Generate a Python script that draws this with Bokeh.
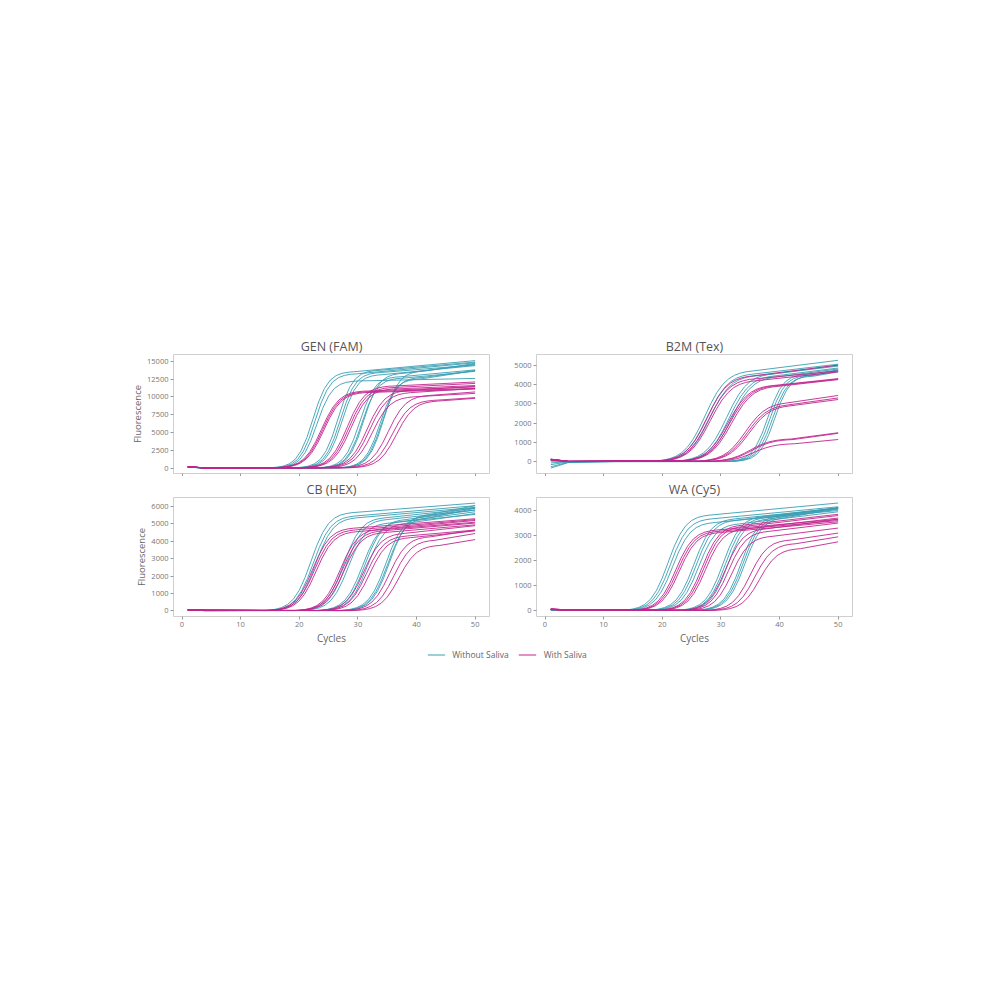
from bokeh.plotting import figure
from bokeh.models import Range1d, FixedTicker, ColumnDataSource, Legend, LegendItem, Spacer
from bokeh.layouts import column, row
from bokeh.embed import file_html
from bokeh.resources import INLINE

# ---------------- data ----------------
# every curve: values at HEAD_CYCLES, then at t0 + RISE_OFFSETS, then at LAST_CYCLE
HEAD_CYCLES = [1, 4]
RISE_OFFSETS = list(range(-8, 8))
LAST_CYCLE = 50
X_TICKS = [0, 10, 20, 30, 40, 50]
SERIES_NAMES = ["Without Saliva", "With Saliva"]
PANEL_TITLES = ["GEN (FAM)", "B2M (Tex)", "CB (HEX)", "WA (Cy5)"]

# GEN (FAM)
GEN_YTICKS = [0, 2500, 5000, 7500, 10000, 12500, 15000]
GEN_WO_T0 = [22.3, 22.7, 23.0, 26.6, 27.0, 27.3, 30.3, 30.7, 31.0, 33.8, 34.1, 34.4]
GEN_WO_HEAD = [[130, 20], [150, 20], [120, 10], [160, 20], [140, 20], [150, 10],
               [130, 20], [170, 20], [140, 10], [150, 20], [160, 20], [130, 10]]
GEN_WO_RISE = [
    [29, 63, 136, 286, 598, 1224, 2407, 4298, 6800, 9302, 11193, 12376, 13002, 13314, 13464, 13532],
    [28, 61, 133, 279, 585, 1197, 2354, 4203, 6650, 9097, 10946, 12103, 12715, 13021, 13167, 13234],
    [26, 57, 123, 258, 541, 1107, 2177, 3887, 6150, 8413, 10123, 11193, 11759, 12042, 12177, 12239],
    [29, 63, 138, 290, 607, 1242, 2443, 4361, 6900, 9439, 11357, 12558, 13193, 13510, 13662, 13731],
    [28, 62, 135, 284, 594, 1215, 2390, 4266, 6750, 9234, 11111, 12285, 12906, 13217, 13365, 13433],
    [28, 61, 132, 277, 581, 1188, 2336, 4171, 6600, 9029, 10864, 12012, 12619, 12923, 13068, 13134],
    [27, 59, 129, 271, 568, 1161, 2283, 4076, 6450, 8824, 10617, 11739, 12332, 12629, 12771, 12836],
    [27, 58, 127, 267, 559, 1143, 2248, 4013, 6350, 8687, 10452, 11557, 12141, 12433, 12573, 12637],
    [28, 62, 134, 281, 590, 1206, 2372, 4234, 6700, 9166, 11028, 12194, 12810, 13119, 13266, 13333],
    [26, 58, 126, 265, 554, 1134, 2230, 3982, 6300, 8618, 10370, 11466, 12046, 12335, 12474, 12537],
    [27, 59, 128, 269, 563, 1152, 2266, 4045, 6400, 8755, 10534, 11648, 12237, 12531, 12672, 12736],
    [29, 63, 137, 288, 603, 1233, 2425, 4329, 6850, 9371, 11275, 12467, 13097, 13412, 13563, 13632],
]
GEN_WO_END = [15100, 14800, 12600, 14900, 14500, 14400, 13800, 13600, 14600, 13700, 13700, 14700]

GEN_W_T0 = [23.8, 24.0, 24.2, 28.2, 28.5, 28.8, 31.6, 32.0, 32.5, 35.2, 35.9, 36.6]
GEN_W_HEAD = [[170, 30], [190, 30], [160, 20], [180, 30], [170, 20], [200, 30],
              [160, 20], [180, 30], [170, 20], [190, 30], [160, 20], [180, 30]]
GEN_W_RISE = [
    [52, 101, 196, 376, 709, 1297, 2278, 3695, 5450, 7205, 8622, 9603, 10192, 10529, 10704, 10802],
    [52, 100, 194, 373, 702, 1285, 2257, 3661, 5400, 7139, 8543, 9515, 10098, 10433, 10606, 10703],
    [51, 100, 193, 369, 696, 1273, 2236, 3627, 5350, 7073, 8464, 9427, 10005, 10336, 10507, 10604],
    [56, 108, 209, 400, 754, 1380, 2424, 3932, 5800, 7668, 9176, 10220, 10846, 11206, 11391, 11496],
    [55, 106, 205, 393, 741, 1357, 2383, 3865, 5700, 7535, 9017, 10043, 10659, 11012, 11195, 11297],
    [54, 104, 202, 386, 728, 1333, 2341, 3797, 5600, 7403, 8859, 9867, 10472, 10819, 10998, 11099],
    [53, 102, 198, 380, 715, 1309, 2299, 3729, 5500, 7271, 8701, 9691, 10285, 10626, 10802, 10901],
    [51, 100, 193, 369, 696, 1273, 2236, 3627, 5350, 7073, 8464, 9427, 10005, 10336, 10507, 10604],
    [48, 94, 182, 348, 657, 1202, 2111, 3424, 5050, 6676, 7989, 8898, 9444, 9757, 9918, 10009],
    [49, 96, 185, 355, 670, 1226, 2153, 3492, 5150, 6808, 8147, 9074, 9631, 9950, 10115, 10207],
    [46, 89, 173, 331, 624, 1142, 2006, 3254, 4800, 6346, 7594, 8458, 8976, 9274, 9427, 9514],
    [46, 88, 171, 328, 618, 1131, 1986, 3221, 4750, 6279, 7515, 8370, 8883, 9177, 9329, 9415],
]
GEN_W_END = [11400, 11200, 11100, 12100, 11900, 11600, 11500, 11200, 10500, 10700, 9900, 9800]

# B2M (Tex)
B2M_YTICKS = [0, 1000, 2000, 3000, 4000, 5000]
B2M_WO_T0 = [27.3, 27.7, 28.1, 31.0, 31.4, 31.8, 38.0, 38.4, 38.8, 39.2]
B2M_WO_HEAD = [[-330, -40], [-260, -30], [-150, -10], [60, 10], [90, 10],
               [-60, 0], [100, 10], [80, 10], [30, 0], [120, 10]]
B2M_WO_RISE = [
    [55, 95, 164, 278, 466, 755, 1178, 1734, 2375, 3016, 3572, 3995, 4285, 4472, 4586, 4655],
    [53, 92, 159, 269, 451, 731, 1141, 1679, 2300, 2921, 3459, 3869, 4149, 4331, 4441, 4508],
    [52, 90, 155, 263, 441, 716, 1116, 1643, 2250, 2858, 3384, 3785, 4059, 4237, 4345, 4410],
    [53, 92, 159, 269, 451, 731, 1141, 1679, 2300, 2921, 3459, 3869, 4149, 4331, 4441, 4508],
    [52, 90, 155, 263, 441, 716, 1116, 1643, 2250, 2858, 3384, 3785, 4059, 4237, 4345, 4410],
    [52, 89, 154, 260, 436, 708, 1104, 1624, 2225, 2826, 3346, 3742, 4014, 4190, 4296, 4361],
    [10, 21, 46, 96, 200, 410, 805, 1438, 2275, 3112, 3745, 4141, 4350, 4454, 4505, 4527],
    [9, 21, 45, 95, 198, 405, 797, 1422, 2250, 3078, 3704, 4095, 4302, 4406, 4455, 4478],
    [9, 20, 45, 93, 196, 401, 788, 1406, 2225, 3044, 3662, 4050, 4254, 4357, 4406, 4428],
    [9, 21, 45, 95, 198, 405, 797, 1422, 2250, 3078, 3704, 4095, 4302, 4406, 4455, 4478],
]
B2M_WO_END = [5250, 5050, 4950, 5000, 4850, 4800, 4750, 4700, 4650, 4750]

B2M_W_T0 = [27.6, 27.9, 28.2, 31.2, 31.5, 31.8, 34.2, 34.5, 34.8, 35.0, 35.3, 35.6]
B2M_W_HEAD = [[110, 20], [130, 20], [100, 10], [120, 20], [90, 10], [110, 20],
              [130, 20], [100, 10], [120, 20], [110, 10], [130, 20], [100, 10]]
B2M_W_RISE = [
    [52, 90, 155, 263, 441, 716, 1116, 1643, 2250, 2858, 3384, 3785, 4059, 4237, 4345, 4410],
    [50, 87, 150, 254, 426, 692, 1079, 1588, 2175, 2762, 3271, 3658, 3924, 4096, 4200, 4263],
    [49, 85, 147, 249, 417, 676, 1054, 1551, 2125, 2699, 3196, 3574, 3834, 4001, 4103, 4165],
    [46, 80, 138, 234, 392, 636, 992, 1460, 2000, 2540, 3008, 3364, 3608, 3766, 3862, 3920],
    [46, 80, 137, 233, 390, 633, 987, 1453, 1990, 2527, 2993, 3347, 3590, 3747, 3843, 3900],
    [46, 79, 136, 231, 387, 628, 980, 1442, 1975, 2508, 2970, 3322, 3563, 3719, 3814, 3871],
    [36, 62, 107, 181, 304, 493, 769, 1132, 1550, 1969, 2331, 2607, 2796, 2919, 2993, 3038],
    [35, 60, 104, 176, 294, 477, 744, 1095, 1500, 1905, 2256, 2523, 2706, 2825, 2897, 2940],
    [34, 59, 102, 173, 289, 469, 732, 1077, 1475, 1873, 2218, 2481, 2661, 2777, 2848, 2891],
    [14, 24, 41, 70, 118, 191, 298, 438, 600, 762, 902, 1009, 1082, 1130, 1159, 1176],
    [14, 23, 40, 68, 115, 186, 290, 427, 585, 743, 880, 984, 1055, 1102, 1130, 1147],
    [11, 19, 33, 56, 93, 151, 236, 347, 475, 603, 714, 799, 857, 894, 917, 931],
]
B2M_W_END = [5000, 4700, 4650, 4300, 4280, 4250, 3430, 3300, 3220, 1500, 1470, 1150]

# CB (HEX)
CB_YTICKS = [0, 1000, 2000, 3000, 4000, 5000, 6000]
CB_WO_T0 = [22.0, 22.4, 22.8, 27.6, 28.0, 28.4, 30.8, 31.2, 31.6, 34.8, 35.1, 35.4]
CB_WO_HEAD = [[50, 20], [40, 20], [60, 30], [50, 20], [40, 20], [60, 30],
              [50, 20], [40, 20], [60, 30], [50, 20], [40, 20], [60, 30]]
CB_WO_RISE = [
    [27, 53, 103, 197, 371, 678, 1191, 1932, 2850, 3768, 4509, 5022, 5330, 5506, 5597, 5649],
    [26, 51, 99, 190, 358, 655, 1150, 1865, 2750, 3636, 4351, 4846, 5143, 5313, 5401, 5451],
    [26, 50, 97, 186, 351, 643, 1129, 1831, 2700, 3569, 4271, 4757, 5049, 5216, 5303, 5351],
    [26, 50, 97, 186, 351, 643, 1129, 1831, 2700, 3569, 4271, 4757, 5049, 5216, 5303, 5351],
    [25, 49, 95, 183, 345, 631, 1108, 1797, 2650, 3503, 4192, 4669, 4956, 5120, 5205, 5252],
    [24, 47, 92, 176, 332, 607, 1066, 1729, 2550, 3371, 4034, 4493, 4769, 4927, 5008, 5054],
    [25, 48, 94, 179, 338, 619, 1087, 1763, 2600, 3437, 4113, 4581, 4862, 5023, 5106, 5153],
    [25, 49, 95, 183, 345, 631, 1108, 1797, 2650, 3503, 4192, 4669, 4956, 5120, 5205, 5252],
    [24, 47, 92, 176, 332, 607, 1066, 1729, 2550, 3371, 4034, 4493, 4769, 4927, 5008, 5054],
    [26, 51, 99, 190, 358, 655, 1150, 1865, 2750, 3636, 4351, 4846, 5143, 5313, 5401, 5451],
    [26, 50, 97, 186, 351, 643, 1129, 1831, 2700, 3569, 4271, 4757, 5049, 5216, 5303, 5351],
    [27, 52, 101, 193, 364, 666, 1170, 1898, 2800, 3702, 4430, 4934, 5236, 5410, 5499, 5550],
]
CB_WO_END = [6200, 6050, 5950, 5900, 5800, 5550, 5700, 5800, 5600, 5950, 5900, 6050]

CB_W_T0 = [22.3, 22.6, 22.9, 27.0, 27.3, 27.6, 31.0, 31.5, 32.0, 35.4, 36.2, 37.0]
CB_W_HEAD = [[70, 40], [60, 30], [80, 40], [70, 40], [60, 30], [80, 40],
             [70, 40], [60, 30], [80, 40], [70, 40], [60, 30], [80, 40]]
CB_W_RISE = [
    [23, 45, 86, 166, 312, 571, 1003, 1627, 2400, 3173, 3797, 4229, 4488, 4637, 4714, 4757],
    [23, 44, 85, 162, 306, 559, 982, 1593, 2350, 3107, 3718, 4141, 4395, 4540, 4615, 4658],
    [22, 43, 83, 159, 299, 547, 961, 1559, 2300, 3041, 3639, 4053, 4301, 4444, 4517, 4559],
    [23, 44, 86, 164, 309, 565, 993, 1610, 2375, 3140, 3757, 4185, 4441, 4589, 4665, 4707],
    [22, 43, 84, 160, 302, 553, 972, 1576, 2325, 3074, 3678, 4097, 4348, 4492, 4566, 4608],
    [22, 42, 82, 157, 296, 541, 951, 1542, 2275, 3008, 3599, 4009, 4254, 4395, 4468, 4509],
    [22, 42, 81, 155, 293, 536, 941, 1526, 2250, 2975, 3560, 3965, 4208, 4347, 4419, 4460],
    [21, 40, 78, 150, 283, 518, 909, 1475, 2175, 2875, 3441, 3832, 4067, 4202, 4272, 4311],
    [20, 40, 77, 147, 276, 506, 888, 1441, 2125, 2809, 3362, 3744, 3974, 4106, 4174, 4212],
    [21, 40, 77, 148, 280, 512, 899, 1458, 2150, 2842, 3401, 3788, 4021, 4154, 4223, 4261],
    [20, 38, 74, 141, 267, 488, 857, 1390, 2050, 2710, 3243, 3612, 3834, 3961, 4026, 4063],
    [18, 35, 68, 131, 247, 452, 794, 1288, 1900, 2512, 3006, 3348, 3553, 3671, 3732, 3766],
]
CB_W_END = [5300, 5250, 5100, 5200, 5050, 4950, 4900, 4650, 4600, 4650, 4450, 4100]

# WA (Cy5)
WA_YTICKS = [0, 1000, 2000, 3000, 4000]
WA_WO_T0 = [21.0, 21.4, 21.8, 25.4, 25.8, 26.2, 30.4, 30.8, 31.2, 33.5, 33.8, 34.1]
WA_WO_HEAD = [[40, 10], [30, 10], [50, 20], [40, 10], [30, 10], [50, 20],
              [40, 10], [30, 10], [50, 20], [40, 10], [30, 10], [50, 20]]
WA_WO_RISE = [
    [18, 36, 69, 133, 250, 458, 805, 1305, 1925, 2545, 3045, 3392, 3600, 3719, 3781, 3815],
    [18, 34, 67, 128, 241, 440, 773, 1254, 1850, 2446, 2927, 3260, 3460, 3574, 3633, 3667],
    [17, 33, 64, 122, 231, 422, 742, 1203, 1775, 2347, 2808, 3128, 3319, 3429, 3486, 3518],
    [18, 34, 67, 128, 241, 440, 773, 1254, 1850, 2446, 2927, 3260, 3460, 3574, 3633, 3667],
    [18, 34, 66, 126, 237, 434, 763, 1237, 1825, 2413, 2887, 3216, 3413, 3526, 3584, 3617],
    [17, 33, 63, 121, 228, 417, 732, 1187, 1750, 2314, 2769, 3084, 3273, 3381, 3437, 3469],
    [18, 35, 68, 131, 247, 452, 794, 1288, 1900, 2512, 3006, 3348, 3553, 3671, 3732, 3766],
    [18, 35, 68, 129, 244, 446, 784, 1271, 1875, 2479, 2966, 3304, 3506, 3623, 3683, 3716],
    [18, 34, 67, 128, 241, 440, 773, 1254, 1850, 2446, 2927, 3260, 3460, 3574, 3633, 3667],
    [18, 36, 69, 133, 250, 458, 805, 1305, 1925, 2545, 3045, 3392, 3600, 3719, 3781, 3815],
    [18, 35, 68, 131, 247, 452, 794, 1288, 1900, 2512, 3006, 3348, 3553, 3671, 3732, 3766],
    [18, 35, 68, 129, 244, 446, 784, 1271, 1875, 2479, 2966, 3304, 3506, 3623, 3683, 3716],
]
WA_WO_END = [4300, 4150, 4000, 4100, 4080, 3950, 4100, 4100, 4050, 4120, 4100, 4080]

WA_W_T0 = [22.3, 22.6, 22.9, 26.8, 27.1, 27.4, 30.8, 31.3, 31.9, 35.0, 35.8, 36.6]
WA_W_HEAD = [[60, 20], [50, 20], [70, 30], [60, 20], [50, 20], [70, 30],
             [60, 20], [50, 20], [70, 30], [60, 20], [50, 20], [70, 30]]
WA_W_RISE = [
    [16, 30, 59, 112, 211, 387, 679, 1102, 1625, 2148, 2571, 2863, 3039, 3140, 3192, 3221],
    [15, 30, 58, 110, 208, 381, 669, 1085, 1600, 2115, 2531, 2819, 2992, 3091, 3142, 3171],
    [15, 29, 57, 109, 205, 375, 658, 1068, 1575, 2082, 2492, 2775, 2945, 3043, 3093, 3122],
    [17, 32, 62, 119, 224, 411, 721, 1170, 1725, 2280, 2729, 3039, 3226, 3333, 3388, 3419],
    [16, 32, 61, 117, 221, 405, 711, 1153, 1700, 2247, 2689, 2995, 3179, 3284, 3339, 3369],
    [16, 31, 59, 114, 215, 393, 690, 1119, 1650, 2181, 2610, 2907, 3086, 3188, 3241, 3270],
    [16, 31, 59, 114, 215, 393, 690, 1119, 1650, 2181, 2610, 2907, 3086, 3188, 3241, 3270],
    [15, 30, 58, 110, 208, 381, 669, 1085, 1600, 2115, 2531, 2819, 2992, 3091, 3142, 3171],
    [14, 28, 54, 104, 195, 357, 627, 1017, 1500, 1983, 2373, 2643, 2805, 2898, 2946, 2973],
    [14, 27, 51, 98, 185, 339, 596, 966, 1425, 1884, 2254, 2511, 2665, 2753, 2799, 2824],
    [13, 25, 49, 93, 176, 321, 564, 915, 1350, 1785, 2136, 2379, 2525, 2608, 2651, 2676],
    [12, 23, 45, 86, 163, 298, 523, 848, 1250, 1653, 1978, 2203, 2338, 2415, 2455, 2478],
]
WA_W_END = [3650, 3600, 3550, 3850, 3800, 3700, 3650, 3500, 3300, 3100, 2950, 2750]

# ---------------- styling ----------------
CYAN = "#3b9fb4"
MAGENTA = "#c2268f"
FONT = "Open Sans"
FRAME_W = 316
FRAME_H = 119


def curves(t0s, heads, rises, ends):
    xs, ys = [], []
    for t0, head, rise, end in zip(t0s, heads, rises, ends):
        xs.append(list(HEAD_CYCLES) + [t0 + d for d in RISE_OFFSETS] + [LAST_CYCLE])
        ys.append(list(head) + list(rise) + [end])
    return ColumnDataSource(dict(xs=xs, ys=ys))


def panel(title, yr, yticks, wo, w, left, right, top, bottom, ylabel, xlabels):
    p = figure(frame_width=FRAME_W, frame_height=FRAME_H,
               x_range=Range1d(-1.45, 52.45), y_range=Range1d(*yr),
               output_backend="svg", toolbar_location=None,
               min_border_left=left, min_border_right=right,
               min_border_top=top, min_border_bottom=bottom)
    p.title.text = title
    p.title.align = "center"
    p.title.text_font = FONT
    p.title.text_font_size = "12.5px"
    p.title.text_font_style = "normal"
    p.title.text_color = "#555555"
    p.title.standoff = 0
    p.title.offset = 0
    p.outline_line_color = "#cfcfcf"
    p.grid.visible = False
    p.background_fill_color = "white"
    p.border_fill_color = "white"

    p.xaxis.ticker = FixedTicker(ticks=X_TICKS)
    p.yaxis.ticker = FixedTicker(ticks=yticks)
    for ax in (p.xaxis[0], p.yaxis[0]):
        ax.axis_line_color = None
        ax.major_tick_line_color = "#9a9a9a"
        ax.major_tick_out = 3
        ax.major_tick_in = 0
        ax.minor_tick_line_color = None
        ax.major_label_text_font = FONT
        ax.major_label_text_font_size = "7.5px"
        ax.major_label_text_color = "#777777"
        ax.major_label_standoff = 2
        ax.axis_label_text_font = FONT
        ax.axis_label_text_font_style = "normal"
        ax.axis_label_text_color = "#666666"
    if not xlabels:
        # shared x axis: tick marks only, no tick labels drawn
        p.xaxis.major_label_text_color = None
        p.xaxis.major_label_text_font_size = "0px"
        p.xaxis.major_label_standoff = 0
    else:
        p.xaxis.axis_label = "Cycles"
        p.xaxis.axis_label_text_font_size = "10px"
        p.xaxis.axis_label_standoff = 1
    if ylabel:
        p.yaxis.axis_label = "Fluorescence"
        p.yaxis.axis_label_text_font_size = "9.5px"
        p.yaxis.axis_label_standoff = 0

    p.multi_line(xs="xs", ys="ys", source=curves(*wo), line_color=CYAN, line_width=1, line_alpha=0.9)
    p.multi_line(xs="xs", ys="ys", source=curves(*w), line_color=MAGENTA, line_width=1, line_alpha=0.9)
    return p


gen = panel(PANEL_TITLES[0], (-760, 15960), GEN_YTICKS,
            (GEN_WO_T0, GEN_WO_HEAD, GEN_WO_RISE, GEN_WO_END),
            (GEN_W_T0, GEN_W_HEAD, GEN_W_RISE, GEN_W_END),
            60, 7, 24, 3, True, False)
b2m = panel(PANEL_TITLES[1], (-610, 5550), B2M_YTICKS,
            (B2M_WO_T0, B2M_WO_HEAD, B2M_WO_RISE, B2M_WO_END),
            (B2M_W_T0, B2M_W_HEAD, B2M_W_RISE, B2M_W_END),
            40, 10, 24, 3, False, False)
cb = panel(PANEL_TITLES[2], (-320, 6520), CB_YTICKS,
           (CB_WO_T0, CB_WO_HEAD, CB_WO_RISE, CB_WO_END),
           (CB_W_T0, CB_W_HEAD, CB_W_RISE, CB_W_END),
           60, 7, 21, 28, True, True)
wa = panel(PANEL_TITLES[3], (-230, 4520), WA_YTICKS,
           (WA_WO_T0, WA_WO_HEAD, WA_WO_RISE, WA_WO_END),
           (WA_W_T0, WA_W_HEAD, WA_W_RISE, WA_W_END),
           40, 10, 21, 28, False, True)

# legend proxies: a single undrawn (NaN) point, only used for the legend glyphs
NAN = float("nan")
leg_src = ColumnDataSource(dict(x=[NAN], y=[NAN]))
leg = figure(width=200, height=14, x_range=Range1d(0, 1), y_range=Range1d(0, 1),
             output_backend="svg", toolbar_location=None, min_border=0,
             x_axis_location=None, y_axis_location=None, outline_line_color=None)
leg.grid.visible = False
r1 = leg.line(x="x", y="y", source=leg_src, line_color=CYAN, line_width=1.2)
r2 = leg.line(x="x", y="y", source=leg_src, line_color=MAGENTA, line_width=1.2)
legend = Legend(items=[LegendItem(label=SERIES_NAMES[0], renderers=[r1]),
                       LegendItem(label=SERIES_NAMES[1], renderers=[r2])],
                orientation="horizontal", location="center",
                border_line_color=None, background_fill_alpha=0,
                label_text_font=FONT, label_text_font_size="8.5px", label_text_color="#666666",
                glyph_width=18, glyph_height=10, label_height=10,
                padding=0, margin=0, spacing=10, label_standoff=7)
leg.add_layout(legend, "center")

layout = column(
    Spacer(height=330),
    row(Spacer(width=113), gen, b2m),
    row(Spacer(width=113), cb, wa),
    row(Spacer(width=407), leg),
)

open("out.html", "w").write(file_html(layout, INLINE))
